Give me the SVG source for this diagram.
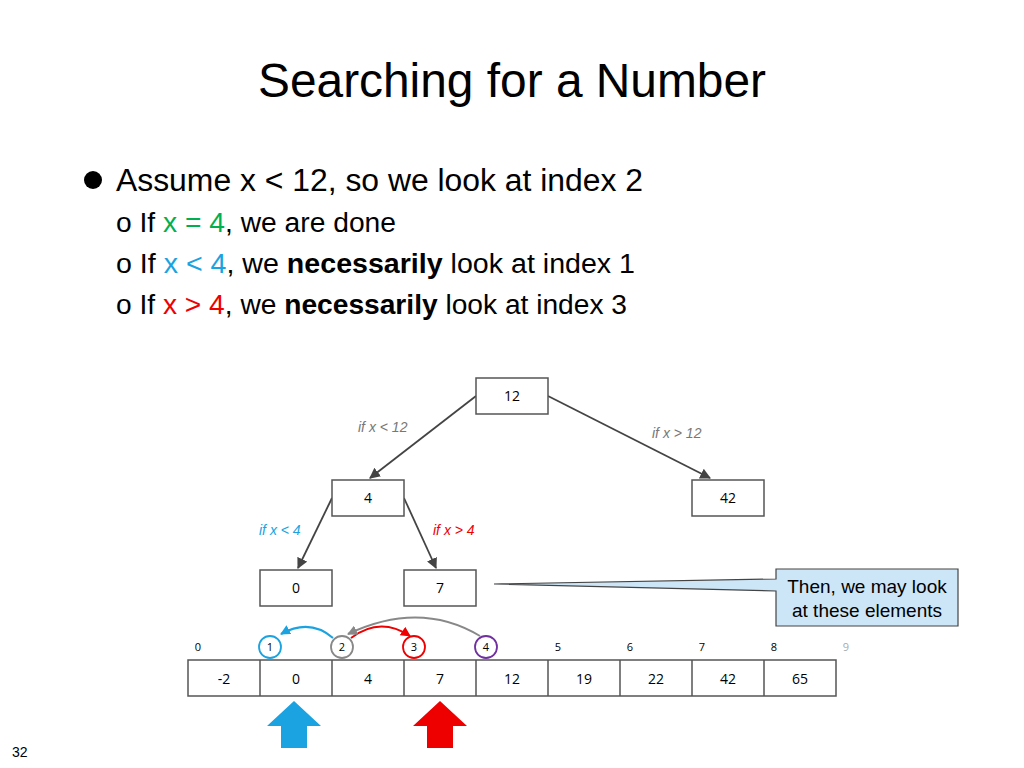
<svg xmlns="http://www.w3.org/2000/svg" width="1024" height="768" viewBox="0 0 1024 768">
<style>
.t{font-family:"Liberation Sans",Arial,sans-serif;fill:#000}
.n{font-family:"Open Sans","Liberation Sans",sans-serif;font-size:14px;text-anchor:middle}
.ix{font-family:"Open Sans","Liberation Sans",sans-serif;font-size:11px;text-anchor:middle}
.box{fill:#fff;stroke:#555;stroke-width:1.5}
.edge{stroke:#444;stroke-width:1.8;fill:none}
.lab{font-family:"Liberation Sans",Arial,sans-serif;font-size:14px;font-style:italic}
</style>
<defs>
<marker id="ah" viewBox="0 0 10 10" refX="9" refY="5" markerWidth="6" markerHeight="6" orient="auto"><path d="M0,0L10,5L0,10z" fill="#444"/></marker>
<marker id="ab" viewBox="0 0 10 10" refX="9" refY="5" markerWidth="5" markerHeight="5" orient="auto"><path d="M0,0L10,5L0,10z" fill="#1aa3e0"/></marker>
<marker id="ar" viewBox="0 0 10 10" refX="9" refY="5" markerWidth="5" markerHeight="5" orient="auto"><path d="M0,0L10,5L0,10z" fill="#e00"/></marker>
<marker id="ag" viewBox="0 0 10 10" refX="9" refY="5" markerWidth="5" markerHeight="5" orient="auto"><path d="M0,0L10,5L0,10z" fill="#888"/></marker>
</defs>
<rect width="1024" height="768" fill="#fff"/>
<text class="t" x="512" y="97" font-size="48" text-anchor="middle" textLength="508" lengthAdjust="spacingAndGlyphs">Searching for a Number</text>
<circle cx="93" cy="180" r="9" fill="#000"/>
<text class="t" x="116" y="191" font-size="31" textLength="527" lengthAdjust="spacingAndGlyphs">Assume x &lt; 12, so we look at index 2</text>
<g class="t" font-size="27">
<text x="116" y="232" textLength="280" lengthAdjust="spacingAndGlyphs">o If <tspan fill="#00b050">x = 4</tspan>, we are done</text>
<text x="116" y="273" textLength="519" lengthAdjust="spacingAndGlyphs">o If <tspan fill="#1aa3e0">x &lt; 4</tspan>, we <tspan font-weight="bold">necessarily</tspan> look at index 1</text>
<text x="116" y="314" textLength="511" lengthAdjust="spacingAndGlyphs">o If <tspan fill="#e00">x &gt; 4</tspan>, we <tspan font-weight="bold">necessarily</tspan> look at index 3</text>
</g>
<g id="connectors">
<line class="edge" x1="476" y1="396" x2="370" y2="478" marker-end="url(#ah)"/>
<line class="edge" x1="548" y1="396" x2="710" y2="478" marker-end="url(#ah)"/>
<line class="edge" x1="332" y1="498" x2="298" y2="568" marker-end="url(#ah)"/>
<line class="edge" x1="404" y1="498" x2="436" y2="568" marker-end="url(#ah)"/>
<path d="M333,638 Q310,618 281,634" stroke="#1aa3e0" stroke-width="2" fill="none" marker-end="url(#ab)"/>
<path d="M351,638 Q380,616 410,636" stroke="#e00" stroke-width="2" fill="none" marker-end="url(#ar)"/>
<path d="M480,636 Q420,600 348,634" stroke="#888" stroke-width="2" fill="none" marker-end="url(#ag)"/>
</g>
<text class="lab" x="358" y="432" fill="#777">if x &lt; 12</text>
<text class="lab" x="652" y="438" fill="#777">if x &gt; 12</text>
<text class="lab" x="259" y="535" fill="#1aa3e0">if x &lt; 4</text>
<text class="lab" x="433" y="535" fill="#e00">if x &gt; 4</text>
<g id="n12"><rect class="box" x="476" y="378" width="72" height="36"/><text class="n" x="512" y="401">12</text></g>
<g id="n4"><rect class="box" x="332" y="480" width="72" height="36"/><text class="n" x="368" y="503">4</text></g>
<g id="n42"><rect class="box" x="692" y="480" width="72" height="36"/><text class="n" x="728" y="503">42</text></g>
<g id="n0"><rect class="box" x="260" y="570" width="72" height="36"/><text class="n" x="296" y="593">0</text></g>
<g id="n7"><rect class="box" x="404" y="570" width="72" height="36"/><text class="n" x="440" y="593">7</text></g>
<g id="callout">
<path d="M776,569 H958 V626 H776 V591 L494,584 L776,579 Z" fill="#cde6f7" stroke="#444" stroke-width="1.2"/>
<text class="t" x="867" y="593" font-size="19" text-anchor="middle">Then, we may look</text>
<text class="t" x="867" y="617" font-size="19" text-anchor="middle">at these elements</text>
</g>
<g id="array">
<rect x="188" y="660" width="648" height="36" fill="#fff" stroke="#555" stroke-width="1.5"/>
<g stroke="#555" stroke-width="1.5">
<line x1="260" y1="660" x2="260" y2="696"/><line x1="332" y1="660" x2="332" y2="696"/><line x1="404" y1="660" x2="404" y2="696"/><line x1="476" y1="660" x2="476" y2="696"/><line x1="548" y1="660" x2="548" y2="696"/><line x1="620" y1="660" x2="620" y2="696"/><line x1="692" y1="660" x2="692" y2="696"/><line x1="764" y1="660" x2="764" y2="696"/>
</g>
<g class="n"><text x="224" y="684">-2</text><text x="296" y="684">0</text><text x="368" y="684">4</text><text x="440" y="684">7</text><text x="512" y="684">12</text><text x="584" y="684">19</text><text x="656" y="684">22</text><text x="728" y="684">42</text><text x="800" y="684">65</text></g>
<circle cx="270" cy="647" r="11" fill="none" stroke="#1aa3e0" stroke-width="1.8"/>
<circle cx="342" cy="647" r="11" fill="none" stroke="#888" stroke-width="1.8"/>
<circle cx="414" cy="647" r="11" fill="none" stroke="#e00" stroke-width="1.8"/>
<circle cx="486" cy="647" r="11" fill="none" stroke="#7030a0" stroke-width="1.8"/>
<g class="ix"><text x="198" y="651">0</text><text x="270" y="651">1</text><text x="342" y="651">2</text><text x="414" y="651">3</text><text x="486" y="651">4</text><text x="558" y="651">5</text><text x="630" y="651">6</text><text x="702" y="651">7</text><text x="774" y="651">8</text><text x="846" y="651" fill="#aaa">9</text></g>
</g>
<path d="M294,701 L321,726 L307,726 L307,748 L281,748 L281,726 L267,726 Z" fill="#1aa3e0"/>
<path d="M440,701 L467,726 L453,726 L453,748 L427,748 L427,726 L413,726 Z" fill="#e00"/>
<text class="t" x="12" y="757" font-size="14" fill="#555">32</text>
</svg>
